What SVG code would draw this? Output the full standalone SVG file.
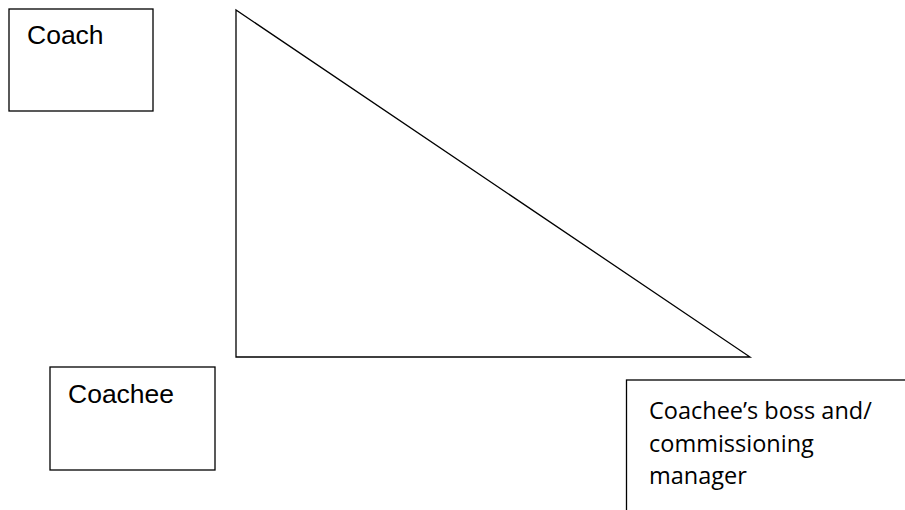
<svg xmlns="http://www.w3.org/2000/svg" width="905" height="510" viewBox="0 0 905 510">
<style>
.box{fill:#fff;stroke:#000;stroke-width:1.3}
.lbl{font-family:"Liberation Sans",Arial,sans-serif;font-size:26.5px;fill:#000}
.lbl2{font-family:"Open Sans","Noto Sans",sans-serif;font-size:23.5px;fill:#000}
</style>
<rect width="905" height="510" fill="#fff"/>
<g id="triangle">
<path d="M236,10 L236,357 L750,357 Z" fill="none" stroke="#000" stroke-width="1.3"/>
</g>
<g id="coach">
<rect class="box" x="9" y="9" width="144" height="102"/>
<text class="lbl" x="27" y="44">Coach</text>
</g>
<g id="coachee">
<rect class="box" x="50" y="367" width="165" height="103"/>
<text class="lbl" x="68" y="403">Coachee</text>
</g>
<g id="boss">
<rect class="box" x="626.5" y="380" width="400" height="200"/>
<text class="lbl2" x="649" y="419">Coachee’s boss and/</text>
<text class="lbl2" x="649" y="452">commissioning</text>
<text class="lbl2" x="649" y="484">manager</text>
</g>
<g id="connectors"></g>
</svg>
